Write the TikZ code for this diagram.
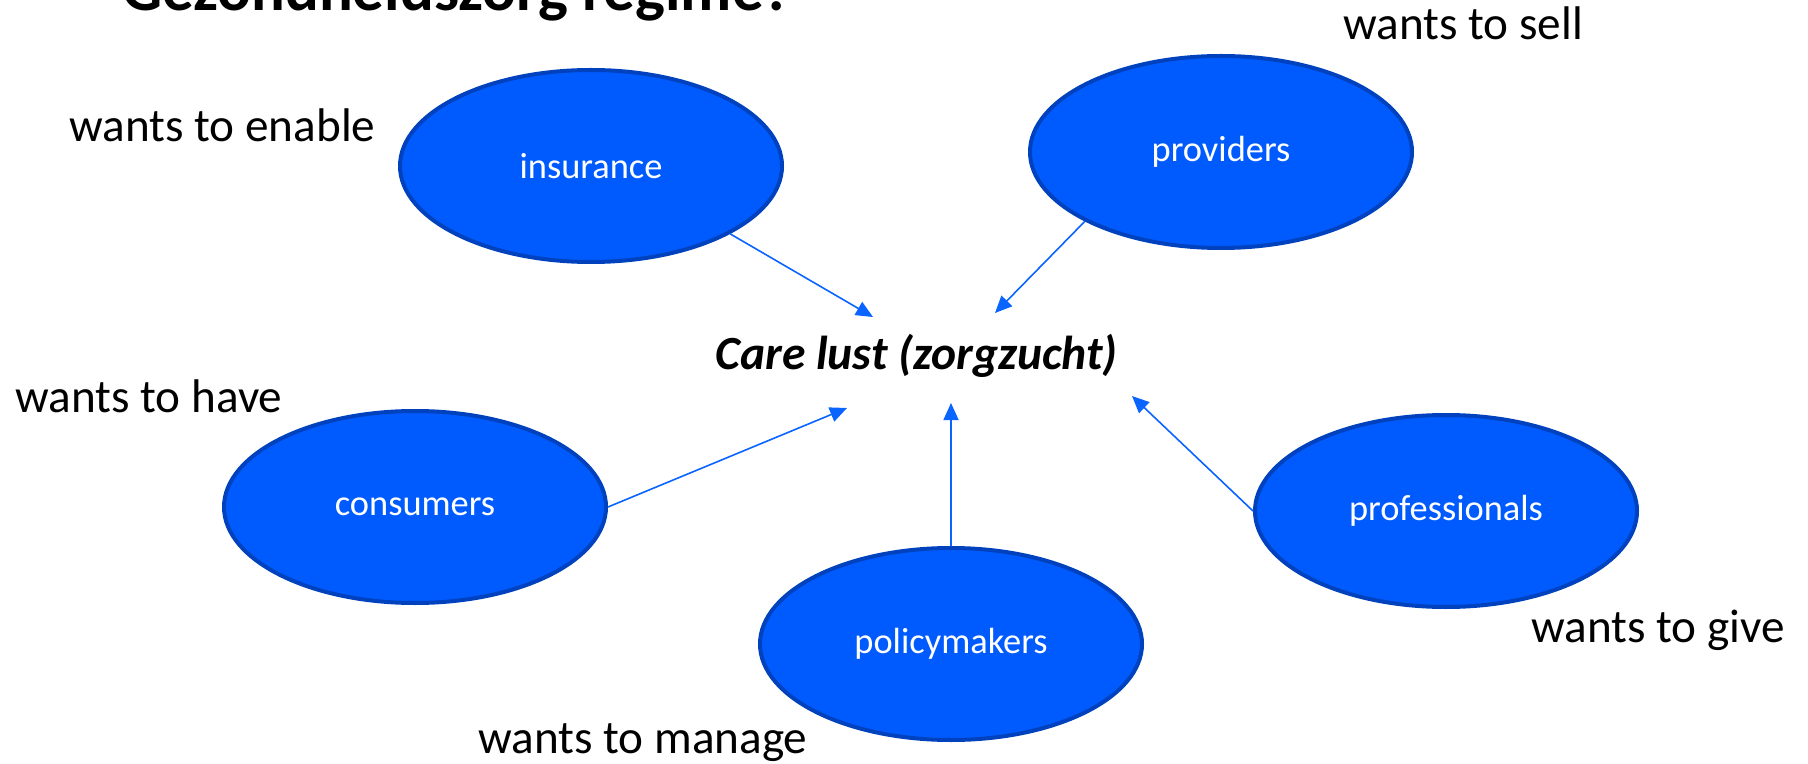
\documentclass[tikz,border=0pt]{standalone}
\usepackage{fontspec}
\setmainfont{Carlito}
\usepackage{tikz}
\usetikzlibrary{arrows.meta,shapes.geometric}
\definecolor{actfill}{RGB}{0,91,255}
\definecolor{actline}{RGB}{0,66,190}
\definecolor{pijl}{RGB}{10,100,255}
\tikzset{
  treenode/.style = {align=center, inner sep=0pt, text centered},
  actor/.style = {treenode, ellipse, text=white, draw=actline, fill=actfill,
    line width=2pt, minimum width=191pt, minimum height=96pt,
    font=\fontsize{18.2}{22}\selectfont},% actor in het regime
  wish/.style = {inner sep=0pt, anchor=base west,
    font=\fontsize{23.6}{28}\selectfont},% wat de actor wil
  centre/.style = {inner sep=0pt, anchor=base west,
    font=\fontsize{23.8}{28}\selectfont\bfseries\itshape},
  pull/.style = {draw=pijl, line width=0.8pt,
    -{Triangle[length=8.5pt,width=7.5pt]}}
}

\begin{document}
\begin{tikzpicture}[x=0.5pt, y=-0.5pt]
	\useasboundingbox (0,0) rectangle (1808,764);
	\node [inner sep=0pt, anchor=base west, font=\fontsize{31.5}{36}\selectfont\bfseries]
		(title) at (122,11) {Gezondheidszorg regime?};
	\node [centre] (care) at (715,370) {Care lust (zorgzucht)};
	% actoren
	\node [actor] (ins) at (591,166) {insurance};
	\node [actor] (prov) at (1221,152) {providers};
	\node [actor] (cons) at (415,507) {consumers};
	\node [actor] (pol) at (951,644) {policymakers};
	\node [actor] (prof) at (1446,511) {professionals};
	% wensen
	\node [wish] (w_ins) at (69,142) {wants to enable};
	\node [wish] (w_prov) at (1343,40) {wants to sell};
	\node [wish] (w_cons) at (15,412) {wants to have};
	\node [wish] (w_pol) at (478,753) {wants to manage};
	\node [wish] (w_prof) at (1531,642) {wants to give};
	% pijlpunten rond de zorgzucht
	\coordinate (t_ins) at (873,317);
	\coordinate (t_prov) at (995,313);
	\coordinate (t_cons) at (847,408);
	\coordinate (t_pol) at (951,403);
	\coordinate (t_prof) at (1132,396);
	\draw [pull] (ins.334) -- (t_ins);
	\draw [pull] (prov.207) -- (t_prov);
	\draw [pull] (cons.east) -- (t_cons);
	\draw [pull] (pol.north) -- (t_pol);
	\draw [pull] (prof.west) -- (t_prof);
\end{tikzpicture}
\end{document}
